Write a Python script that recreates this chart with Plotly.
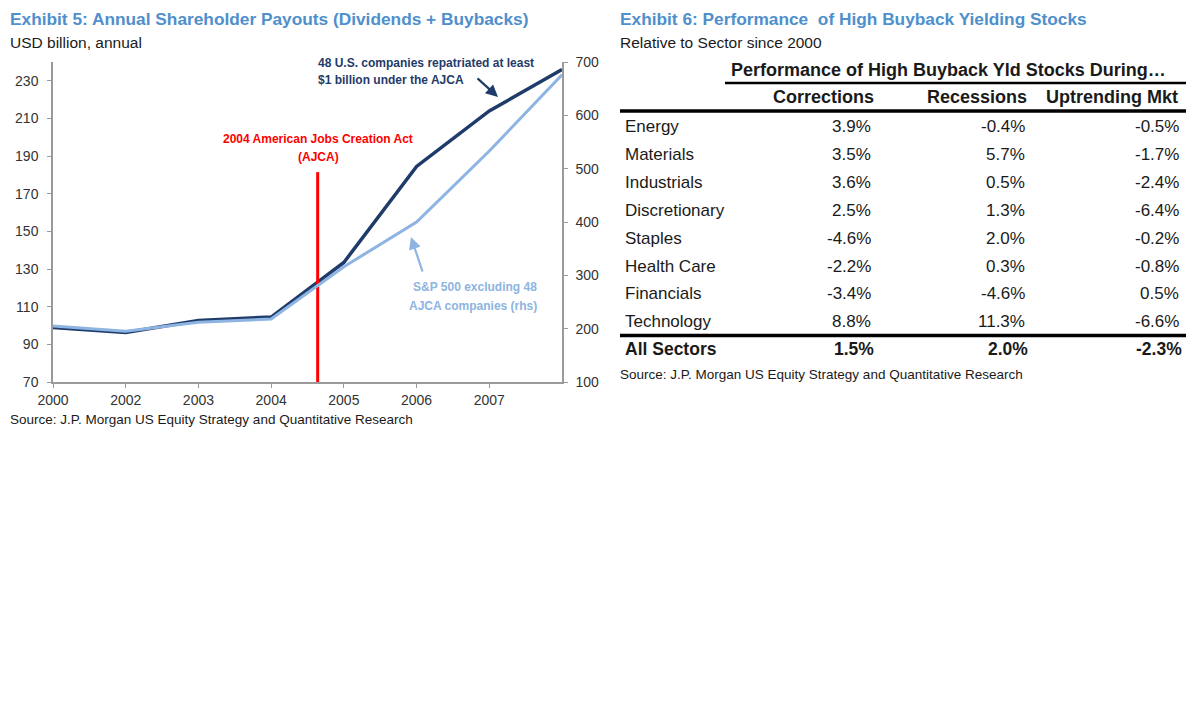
import plotly.graph_objects as go

# ---------------- data ----------------
year_labels = ["2000", "2002", "2003", "2004", "2005", "2006", "2007"]
ajca_48 = [99, 96.3, 102.7, 104.5, 133.5, 184.5, 214, 236]          # USD bn, lhs
sp500_ex48 = [205, 195, 212, 218, 316, 400, 533, 676]               # USD bn, rhs
ajca_x = 3.64          # position of the 2004 AJCA marker on the period axis
ajca_top = 181.5       # height of the AJCA marker (lhs units)
left_ticks = [70, 90, 110, 130, 150, 170, 190, 210, 230]
right_ticks = [100, 200, 300, 400, 500, 600, 700]

sectors = ["Energy", "Materials", "Industrials", "Discretionary", "Staples",
           "Health Care", "Financials", "Technology"]
corrections = [3.9, 3.5, 3.6, 2.5, -4.6, -2.2, -3.4, 8.8]
recessions = [-0.4, 5.7, 0.5, 1.3, 2.0, 0.3, -4.6, 11.3]
uptrending = [-0.5, -1.7, -2.4, -6.4, -0.2, -0.8, 0.5, -6.6]
all_sectors = [1.5, 2.0, -2.3]
col_headers = ["Corrections", "Recessions", "Uptrending Mkt"]

# ---------------- style ----------------
OFF = 8                      # page body margin
W, H = 1200 - 2 * OFF, 720 - 2 * OFF
FONT = "Liberation Sans, Arial, sans-serif"
TITLE_BLUE = "#4F8FCC"
DARK = "#1F3B6A"
LIGHT = "#8DB4E2"
TXT = "#1a1a1a"
AX = "#9a9a9a"


def px(x):
    return (x - OFF) / W


def py(y):
    return 1 - (y - OFF) / H


period = list(range(len(ajca_48)))

fig = go.Figure()
fig.add_trace(go.Scatter(x=period, y=sp500_ex48, mode="lines", yaxis="y2",
                         line=dict(color=LIGHT, width=3), hoverinfo="skip"))
fig.add_trace(go.Scatter(x=period, y=ajca_48, mode="lines", yaxis="y",
                         line=dict(color=DARK, width=3.5), hoverinfo="skip"))
fig.add_trace(go.Scatter(x=[ajca_x, ajca_x], y=[left_ticks[0], ajca_top], mode="lines",
                         line=dict(color="#FF0000", width=3), hoverinfo="skip"))

tickfont = dict(family=FONT, size=14, color="#333333")
fig.update_layout(
    width=W, height=H, autosize=False,
    margin=dict(l=0, r=0, t=0, b=0, autoexpand=False),
    paper_bgcolor="white", plot_bgcolor="white",
    showlegend=False,
    xaxis=dict(domain=[px(53), px(562)], range=[0, len(ajca_48) - 1],
               tickvals=list(range(len(year_labels))), ticktext=year_labels,
               showline=True, linecolor=AX, linewidth=1.5, ticks="outside",
               ticklen=4, tickcolor=AX, showgrid=False, zeroline=False,
               tickfont=tickfont, fixedrange=True, automargin=False),
    yaxis=dict(domain=[py(382), py(62)], range=[70, 240], tickvals=left_ticks,
               showline=True, linecolor=AX, linewidth=1.5, ticks="outside",
               ticklen=4, tickcolor=AX, showgrid=False, zeroline=False,
               tickfont=tickfont, ticklabelstandoff=6, fixedrange=True,
               automargin=False),
    yaxis2=dict(overlaying="y", side="right", anchor="x", range=[100, 700],
                tickvals=right_ticks, showline=True, linecolor=AX, linewidth=1.5,
                ticks="outside", ticklen=4, tickcolor=AX, showgrid=False,
                zeroline=False, tickfont=tickfont, ticklabelstandoff=5,
                fixedrange=True, automargin=False),
)

ann = []


def text(x, y, s, size=15, color=TXT, bold=False, xanchor="left", yanchor="middle",
         align="left"):
    if bold:
        s = "<b>" + s + "</b>"
    ann.append(dict(x=px(x), y=py(y), xref="paper", yref="paper", text=s,
                    showarrow=False, xanchor=xanchor, yanchor=yanchor, align=align,
                    font=dict(family=FONT, size=size, color=color)))


# ---- left chart texts ----
text(8, 19, "Exhibit 5: Annual Shareholder Payouts (Dividends + Buybacks)", size=17.3,
     color=TITLE_BLUE, bold=True)
text(8, 42, "USD billion, annual", size=15.5)
text(8, 419, "Source: J.P. Morgan US Equity Strategy and Quantitative Research", size=13.5)
text(318, 139, "2004 American Jobs Creation Act", size=12, color="#FF0000",
     bold=True, xanchor="center")
text(318, 157, "(AJCA)", size=12, color="#FF0000", bold=True, xanchor="center")
text(316, 63, "48 U.S. companies repatriated at least", size=12, color=DARK, bold=True)
text(316, 80, "$1 billion under the AJCA", size=12, color=DARK, bold=True)
text(539, 287, "S&P 500 excluding 48", size=12, color=LIGHT, bold=True,
     xanchor="right")
text(539, 306, "AJCA companies (rhs)", size=12, color=LIGHT, bold=True,
     xanchor="right")

# arrows
ann.append(dict(x=px(498), y=py(97), xref="paper", yref="paper", ax=476 - 498,
                ay=77 - 97, axref="pixel", ayref="pixel", text="", showarrow=True,
                arrowhead=2, arrowsize=1.1, arrowwidth=2.2, arrowcolor=DARK))
ann.append(dict(x=px(411), y=py(237), xref="paper", yref="paper", ax=423 - 411,
                ay=273 - 237, axref="pixel", ayref="pixel", text="", showarrow=True,
                arrowhead=2, arrowsize=1.1, arrowwidth=2.2, arrowcolor=LIGHT))

# ---- right table ----
text(618, 19, "Exhibit 6: Performance&nbsp; of High Buyback Yielding Stocks", size=17.3,
     color=TITLE_BLUE, bold=True)
text(618, 42, "Relative to Sector since 2000", size=15.5)
text(948, 70, "Performance of High Buyback Yld Stocks During…", size=18, bold=True,
     xanchor="center")
header_x = [823, 977, 1112]
for hx, h in zip(header_x, col_headers):
    text(hx, 97, h, size=18, bold=True, xanchor="center")

col_right = [873, 1027, 1181]
row_y0, row_dy = 126.5, 27.9
for i, name in enumerate(sectors):
    yy = row_y0 + i * row_dy
    text(623, yy, name, size=17)
    for cx, vals in zip(col_right, [corrections, recessions, uptrending]):
        text(cx, yy, f"{vals[i]:.1f}%", size=17, xanchor="right")
text(623, 349, "All Sectors", size=17.5, bold=True)
for cx, v in zip(col_right, all_sectors):
    text(cx + 3, 349, f"{v:.1f}%", size=17.5, bold=True, xanchor="right")
text(618, 374, "Source: J.P. Morgan US Equity Strategy and Quantitative Research", size=13.5)

fig.update_layout(annotations=ann)

shapes = [
    dict(type="line", xref="paper", yref="paper", x0=px(725), x1=px(1186),
         y0=py(83), y1=py(83), line=dict(color="black", width=2.5)),
    dict(type="line", xref="paper", yref="paper", x0=px(620), x1=px(1186),
         y0=py(111), y1=py(111), line=dict(color="black", width=3.5)),
    dict(type="line", xref="paper", yref="paper", x0=px(620), x1=px(1186),
         y0=py(335.5), y1=py(335.5), line=dict(color="black", width=3.5)),
]
fig.update_layout(shapes=shapes)

fig.write_html("out.html", config={"displayModeBar": False})
